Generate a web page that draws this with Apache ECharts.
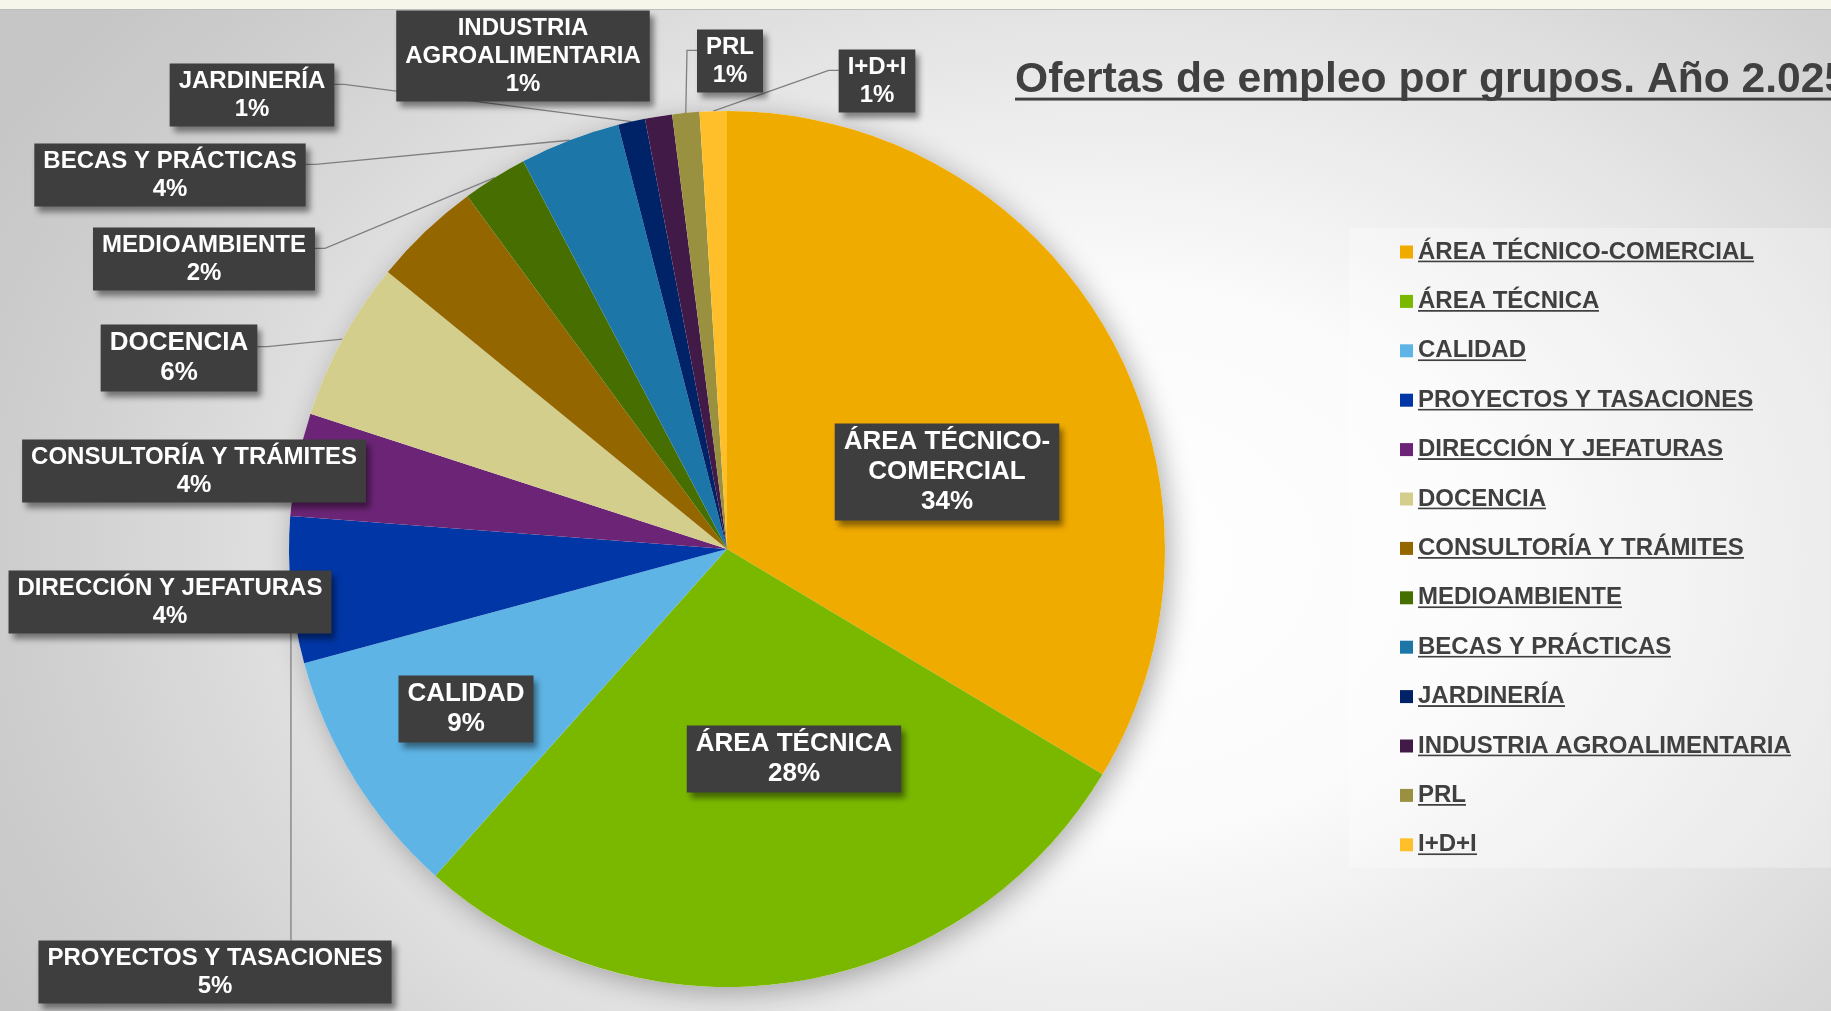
<!DOCTYPE html>
<html lang="es">
<head>
    <meta charset="utf-8">
    <title>Ofertas de empleo por grupos</title>
    <script src="https://cdn.jsdelivr.net/npm/echarts@6/dist/echarts.min.js"></script>
    <style>
        html, body { margin: 0; padding: 0; }
        #grafico {
            width: 1831px;
            height: 1011px;
            background:
                linear-gradient(to bottom, #f6f6ea 0, #f6f6ea 9px, #bdbdbd 9px, #bdbdbd 10px, transparent 10px),
                radial-gradient(1250px 900px at 1100px 560px, #ffffff 0%, #fbfbfb 30%, #e4e4e4 60%, #cfcfcf 85%, #c6c6c6 100%);
        }
    </style>
</head>
<body>
<div id="grafico"></div>
<script type="text/javascript">
    // datos del gráfico (ofertas por grupo, orden de la leyenda)
    var grupos = ['ÁREA TÉCNICO-COMERCIAL', 'ÁREA TÉCNICA', 'CALIDAD', 'PROYECTOS Y TASACIONES',
        'DIRECCIÓN Y JEFATURAS', 'DOCENCIA', 'CONSULTORÍA Y TRÁMITES', 'MEDIOAMBIENTE',
        'BECAS Y PRÁCTICAS', 'JARDINERÍA', 'INDUSTRIA AGROALIMENTARIA', 'PRL', 'I+D+I'];
    var ofertas = [336, 280, 92, 54, 38, 59, 40, 24, 37, 10, 10, 10, 10];
    var colores = ['#f0ab00', '#7ab800', '#5eb4e4', '#0036a5', '#6c2576', '#d3ce8c', '#946600',
        '#466e00', '#1c77a8', '#002266', '#421a48', '#999040', '#ffbf2a'];
    var titulo = 'Ofertas de empleo por grupos. Año 2.025';

    // posición de cada etiqueta (centro de la caja, px) y si lleva línea guía
    var posEtiqueta = [[947, 472], [794, 759], [466, 709], [215, 972], [170, 602], [179, 358],
        [194, 471], [204, 259], [170, 175], [252, 95], [523, 56], [730, 61], [877, 81]];
    var conLinea = [false, false, false, true, false, true, false, true, true, true, false, true, true];
    var grandes = [true, true, true, false, false, true, false, false, false, false, false, false, false];
    var saltos = {
        'ÁREA TÉCNICO-COMERCIAL': 'ÁREA TÉCNICO-\nCOMERCIAL',
        'INDUSTRIA AGROALIMENTARIA': 'INDUSTRIA\nAGROALIMENTARIA'
    };

    var fuente = '"Liberation Sans", Arial, sans-serif';
    var centro = [727, 549];
    var radio = 438;

    // subrayado: imagen de fondo estirada bajo el texto
    function subrayado(alto, desde, grosor, color) {
        var c = document.createElement('canvas');
        c.width = 4;
        c.height = alto;
        var ctx = c.getContext('2d');
        ctx.fillStyle = color;
        ctx.fillRect(0, desde, 4, grosor);
        return c;
    }

    var datos = [];
    for (var i = 0; i < grupos.length; i++) {
        datos.push({
            name: grupos[i],
            value: ofertas[i],
            itemStyle: { color: colores[i] },
            label: grandes[i] ? { fontSize: 26, lineHeight: 30 } : {},
            labelLine: { show: conLinea[i] }
        });
    }

    var grafico = echarts.init(document.getElementById('grafico'), null, { renderer: 'canvas' });
    var option = {
        backgroundColor: 'transparent',
        animation: false,
        title: {
            text: '{u|' + titulo + '}',
            left: 1015,
            top: 58,
            padding: 0,
            textStyle: {
                rich: {
                    u: {
                        fontFamily: fuente,
                        fontSize: 42.6,
                        fontWeight: 'bold',
                        color: '#404040',
                        lineHeight: 44,
                        backgroundColor: { image: subrayado(44, 40, 3, '#404040') }
                    }
                }
            }
        },
        legend: {
            orient: 'vertical',
            left: 1349,
            top: 228,
            padding: [12, 40, 11, 51],
            backgroundColor: 'rgba(255,255,255,0.3)',
            data: grupos,
            icon: 'rect',
            itemWidth: 13,
            itemHeight: 13,
            itemGap: 25.4,
            selectedMode: false,
            formatter: function (n) {
                return '{u|' + n + '}';
            },
            textStyle: {
                rich: {
                    u: {
                        fontFamily: fuente,
                        fontSize: 24,
                        fontWeight: 'bold',
                        color: '#404040',
                        lineHeight: 28,
                        backgroundColor: { image: subrayado(28, 24, 2, '#404040') }
                    }
                }
            }
        },
        series: [
            {
                // sombra bajo la tarta
                type: 'pie',
                silent: true,
                z: 1,
                center: centro,
                radius: radio,
                label: { show: false },
                labelLine: { show: false },
                emphasis: { disabled: true },
                itemStyle: {
                    color: '#ffffff',
                    shadowBlur: 28,
                    shadowColor: 'rgba(0,0,0,0.3)',
                    shadowOffsetX: 6,
                    shadowOffsetY: 6
                },
                data: [{ value: 1, name: 'sombra' }]
            },
            {
                name: 'Ofertas',
                type: 'pie',
                z: 2,
                center: centro,
                radius: radio,
                startAngle: 90,
                clockwise: true,
                avoidLabelOverlap: false,
                itemStyle: { borderWidth: 0 },
                emphasis: { disabled: true },
                label: {
                    show: true,
                    position: 'outside',
                    fontFamily: fuente,
                    fontSize: 24,
                    fontWeight: 'bold',
                    lineHeight: 28,
                    color: '#ffffff',
                    backgroundColor: '#3e3e3e',
                    padding: [4, 9, 3, 9],
                    shadowColor: 'rgba(0,0,0,0.45)',
                    shadowBlur: 6,
                    shadowOffsetX: 4,
                    shadowOffsetY: 5,
                    formatter: function (p) {
                        var nombre = saltos[p.name] || p.name;
                        return nombre + '\n' + Math.round(p.percent) + '%';
                    }
                },
                labelLine: {
                    show: true,
                    lineStyle: { color: '#7f7f7f', width: 1.3 }
                },
                labelLayout: function (params) {
                    var pos = posEtiqueta[params.dataIndex];
                    var w = params.labelRect.width;
                    var h = params.labelRect.height;
                    var res = { x: pos[0], y: pos[1], align: 'center', verticalAlign: 'middle' };
                    var pts = params.labelLinePoints;
                    if (pts) {
                        var s = pts[0];
                        var l = pos[0] - w / 2, r = pos[0] + w / 2;
                        var t = pos[1] - h / 2, b = pos[1] + h / 2;
                        var fin, codo;
                        if (s[0] > r) {
                            fin = [r, t + h * 0.33];
                            codo = [r + 10, fin[1]];
                        } else if (s[0] < l) {
                            fin = [l, t + h * 0.33];
                            codo = [l - 10, fin[1]];
                        } else {
                            fin = [s[0], s[1] > b ? b : t];
                            codo = fin;
                        }
                        res.labelLinePoints = [s, codo, fin];
                    }
                    return res;
                },
                data: datos
            }
        ]
    };
    grafico.setOption(option);
</script>
</body>
</html>
